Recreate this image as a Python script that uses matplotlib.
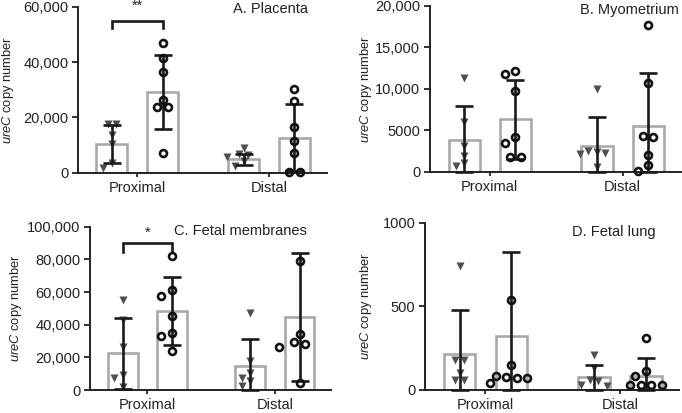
import matplotlib
matplotlib.use('Agg')
import matplotlib.pyplot as plt
from matplotlib.ticker import FuncFormatter
import numpy as np

plt.rcParams['font.family'] = ['Liberation Sans', 'DejaVu Sans']
plt.rcParams['mathtext.fontset'] = 'custom'
plt.rcParams['mathtext.it'] = 'Liberation Sans:italic'
plt.rcParams['mathtext.rm'] = 'Liberation Sans'

groups = ['Proximal', 'Distal']

# A. Placenta  (triangles / open circles, per group)
placenta_tri_prox = [17800, 17600, 13500, 10500, 3500, 1800]
placenta_circ_prox = [47000, 41600, 36400, 26400, 23800, 23800, 7300]
placenta_tri_dist = [8800, 6800, 6500, 5600, 4400, 2600]
placenta_circ_dist = [30300, 25800, 16400, 11300, 7000, 200, 200]
placenta_mean = [10300, 29300, 4800, 12700]
placenta_sd = [6800, 13500, 2000, 12200]

# B. Myometrium
myo_tri_prox = [11350, 6040, 3140, 1930, 1010, 720]
myo_circ_prox = [12190, 11790, 9780, 4150, 3430, 1810, 1810]
myo_tri_dist = [9950, 2500, 2400, 2300, 2100, 600]
myo_circ_dist = [17700, 10670, 4300, 4220, 2020, 810, 50]
myo_mean = [3830, 6320, 3140, 5520]
myo_sd = [4100, 4800, 3430, 6450]

# C. Fetal membranes
memb_tri_prox = [55000, 43000, 26500, 9100, 7100, 2000]
memb_circ_prox = [82200, 61500, 57800, 45600, 34700, 33000, 23900]
memb_tri_dist = [47000, 17500, 10500, 7500, 5500, 2500]
memb_circ_dist = [79100, 34500, 29400, 28400, 26400, 4000]
memb_mean = [22500, 48300, 14400, 44800]
memb_sd = [21700, 20900, 16600, 39400]

# D. Fetal lung
lung_tri_prox = [743, 180, 180, 100, 60, 60]
lung_circ_prox = [537, 148, 80, 74, 70, 70, 38]
lung_tri_dist = [210, 130, 55, 50, 25, 20]
lung_circ_dist = [310, 110, 80, 25, 25, 25, 25]
lung_mean = [216, 323, 74, 80]
lung_sd = [263, 505, 76, 110]

bar_grey = '#a9a9a9'
tri_col = '#4f4f4f'
dark = '#1a1a1a'
offset = 0.193
width = 0.235


def fmt(v, pos):
    v = int(round(v))
    return '{:,}'.format(v) if v >= 10000 else str(v)


def swarm(ax, xc, values, step):
    # dodge markers sideways so they don't overlap (works in pixels)
    trans = ax.transData
    x0 = trans.transform((xc, 0))[0]
    ys = [trans.transform((xc, v))[1] for v in sorted(values, reverse=True)]
    pts = []
    i = 0
    while i < len(ys):
        # points at (almost) the same height form a centred row
        j = i
        while j + 1 < len(ys) and ys[i] - ys[j + 1] < 2.0:
            j += 1
        n = j - i + 1
        for k in range(n):
            base = (k - (n - 1) / 2.0) * step
            y = ys[i + k]
            for extra in [0, -1, 1, -2, 2, -3, 3]:
                x = x0 + base + extra * step
                if all(np.hypot(x - px, y - py) >= step * 0.8 for px, py in pts):
                    break
            pts.append((x, y))
        i = j + 1
    inv = trans.inverted()
    xy = np.array([inv.transform(p) for p in pts])
    return xy[:, 0], xy[:, 1]


def panel(ax, tri, circ, mean, sd, ylim, yticks, title, tpos, lab_x):
    ax.set_xlim(-0.45, 1.44)
    ax.set_ylim(0, ylim)
    for g in range(2):
        xs = [g - offset, g + offset]
        m = mean[2 * g:2 * g + 2]
        s = sd[2 * g:2 * g + 2]
        ax.bar(xs, m, width=width, facecolor='white', edgecolor=bar_grey,
               linewidth=1.9, zorder=1)
        lo = [min(a, b) for a, b in zip(s, m)]
        ax.errorbar(xs, m, yerr=[lo, s], fmt='none', ecolor=dark,
                    elinewidth=1.9, capsize=6.5, capthick=1.9, zorder=4,
                    clip_on=False)
        tx, ty = swarm(ax, xs[0], tri[g], 8.5)
        ax.plot(tx, ty, 'v', ms=5.4, color=tri_col, mec='none', zorder=3,
                clip_on=False)
        cx, cy = swarm(ax, xs[1], circ[g], 10.5)
        ax.plot(cx, cy, 'o', ms=5.0, mfc='none', mec='#111111', mew=1.9,
                zorder=5, clip_on=False)

    ax.set_xticks([0, 1])
    ax.set_xticklabels(groups)
    ax.set_yticks(yticks)
    ax.yaxis.set_major_formatter(FuncFormatter(fmt))
    ax.tick_params(axis='y', length=4.5, width=1.3, pad=2.5, labelsize=10.5,
                   colors='#222222')
    ax.tick_params(axis='x', length=3, width=1.3, pad=3, labelsize=10.5,
                   colors='#222222')
    for sp in ['top', 'right']:
        ax.spines[sp].set_visible(False)
    for sp in ['left', 'bottom']:
        ax.spines[sp].set_linewidth(1.4)
        ax.spines[sp].set_color('#222222')
    ax.set_ylabel(r'$\mathit{ureC}$ copy number', fontsize=9.3, color='#222222')
    ax.yaxis.set_label_coords(lab_x, 0.5)
    ax.text(tpos[0], tpos[1], title, transform=ax.transAxes, ha='right',
            va='center', fontsize=10.5, color='#222222')


def bracket(ax, y0, y1, ys, label):
    xs = [-offset, -offset, offset, offset]
    ax.plot(xs, [y0, y1, y1, y0], color=dark, lw=1.9, clip_on=False,
            solid_joinstyle='miter', zorder=6)
    ax.text(0, ys, label, ha='center', va='center', fontsize=10.5,
            color='#222222', clip_on=False)


fig = plt.figure(figsize=(6.82, 4.13), dpi=100)
axA = fig.add_axes([78 / 682, 1 - 172.7 / 413, 249 / 682, 165.7 / 413])
axB = fig.add_axes([430 / 682, 1 - 171.7 / 413, 251 / 682, 165.7 / 413])
axC = fig.add_axes([90 / 682, 1 - 390 / 413, 241 / 682, 163.3 / 413])
axD = fig.add_axes([425 / 682, 1 - 389.5 / 413, 254 / 682, 166.5 / 413])

panel(axA, [placenta_tri_prox, placenta_tri_dist],
      [placenta_circ_prox, placenta_circ_dist], placenta_mean, placenta_sd,
      60000, [0, 20000, 40000, 60000], 'A. Placenta', (0.924, 0.986), -0.25)
panel(axB, [myo_tri_prox, myo_tri_dist], [myo_circ_prox, myo_circ_dist],
      myo_mean, myo_sd, 20000, [0, 5000, 10000, 15000, 20000],
      'B. Myometrium', (0.992, 0.976), -0.223)
panel(axC, [memb_tri_prox, memb_tri_dist], [memb_circ_prox, memb_circ_dist],
      memb_mean, memb_sd, 100000, [0, 20000, 40000, 60000, 80000, 100000],
      'C. Fetal membranes', (0.90, 0.974), -0.272)
panel(axD, [lung_tri_prox, lung_tri_dist], [lung_circ_prox, lung_circ_dist],
      lung_mean, lung_sd, 1000, [0, 500, 1000], 'D. Fetal lung',
      (0.909, 0.946), -0.20)

bracket(axA, 52500, 55000, 60400, '**')
bracket(axC, 84800, 89900, 96300, '*')

fig.savefig('out.png', dpi=100)
